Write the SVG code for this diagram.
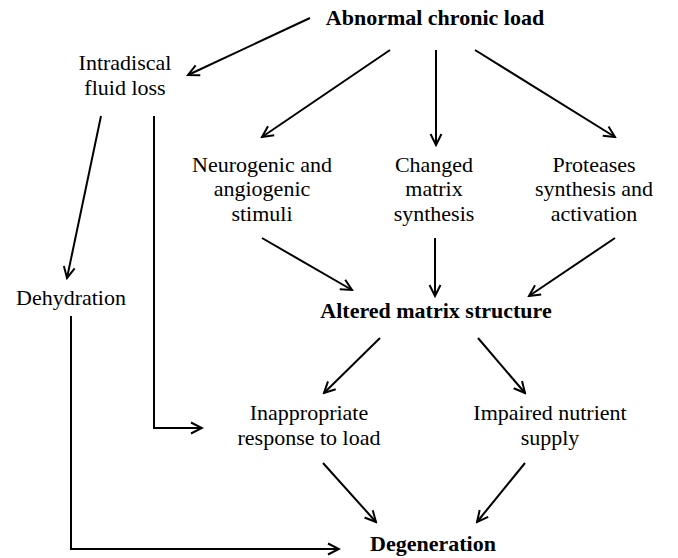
<svg xmlns="http://www.w3.org/2000/svg" width="678" height="558" viewBox="0 0 678 558">
<style>
text{font-family:"Liberation Serif","Times New Roman",serif;font-size:22px;fill:#000;text-anchor:middle}
.b{font-weight:bold}
.c line,.c polyline{stroke:#000;stroke-width:2;fill:none;marker-end:url(#ah)}
</style>
<defs>
<marker id="ah" markerUnits="userSpaceOnUse" markerWidth="14" markerHeight="14" refX="12" refY="6" orient="auto" viewBox="0 0 14 12">
<path d="M1,0.5 L12,6 L1,11.5" fill="none" stroke="#000" stroke-width="2"/>
</marker>
</defs>
<rect width="678" height="558" fill="#fff"/>
<g id="n-abnormal"><text class="b" x="435" y="25">Abnormal chronic load</text></g>
<g id="n-intradiscal"><text x="125" y="70">Intradiscal</text><text x="125" y="95">fluid loss</text></g>
<g id="n-neurogenic"><text x="262" y="172">Neurogenic and</text><text x="262" y="196">angiogenic</text><text x="262" y="221">stimuli</text></g>
<g id="n-changed"><text x="434" y="172">Changed</text><text x="434" y="196">matrix</text><text x="434" y="221">synthesis</text></g>
<g id="n-proteases"><text x="594" y="172">Proteases</text><text x="594" y="196">synthesis and</text><text x="594" y="221">activation</text></g>
<g id="n-dehydration"><text x="71" y="305">Dehydration</text></g>
<g id="n-altered"><text class="b" x="436" y="318">Altered matrix structure</text></g>
<g id="n-inappropriate"><text x="309" y="420">Inappropriate</text><text x="309" y="445">response to load</text></g>
<g id="n-impaired"><text x="550" y="420">Impaired nutrient</text><text x="550" y="445">supply</text></g>
<g id="n-degeneration"><text class="b" x="433" y="551">Degeneration</text></g>
<g id="connectors" class="c">
<line x1="310" y1="18" x2="188" y2="75"/>
<line x1="390" y1="50" x2="262" y2="137"/>
<line x1="436" y1="50" x2="436" y2="145"/>
<line x1="475" y1="50" x2="615" y2="137"/>
<line x1="101" y1="116" x2="67" y2="278"/>
<polyline points="154,116 154,428 202,428"/>
<line x1="262" y1="238" x2="352" y2="290"/>
<line x1="435" y1="238" x2="435" y2="296"/>
<line x1="615" y1="238" x2="529" y2="296"/>
<line x1="380" y1="338" x2="324" y2="393"/>
<line x1="478" y1="338" x2="525" y2="393"/>
<line x1="323" y1="463" x2="376" y2="522"/>
<line x1="525" y1="463" x2="477" y2="522"/>
<polyline points="71,316 71,549 339,549"/>
</g>
</svg>
